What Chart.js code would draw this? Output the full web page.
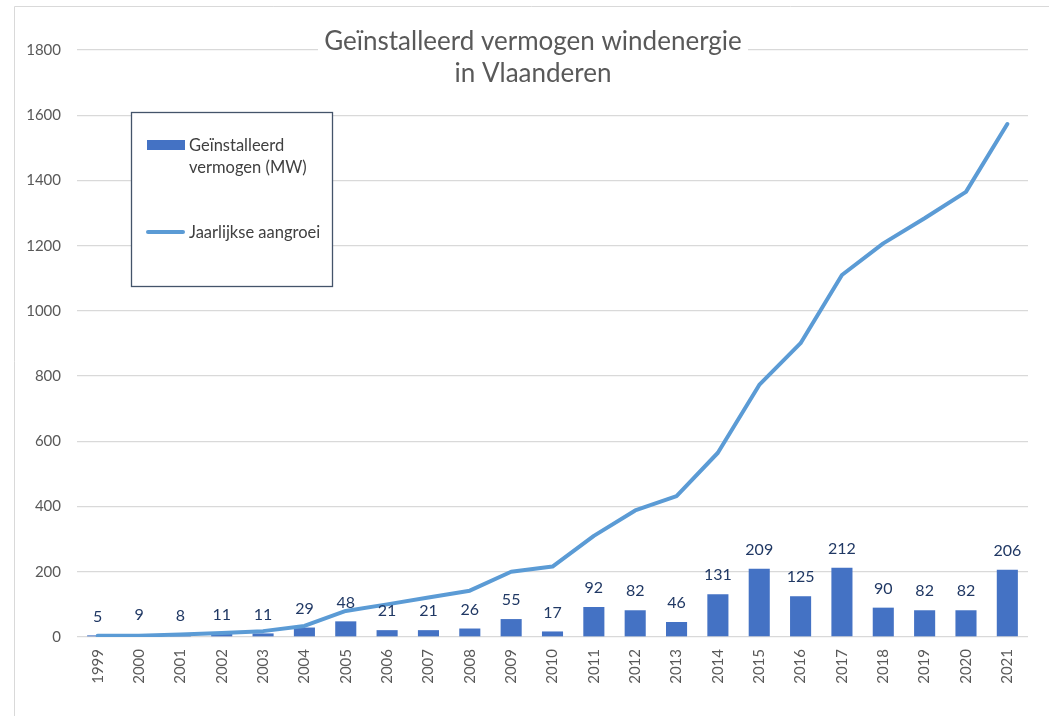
<!DOCTYPE html>
<html>
<head>
<meta charset="utf-8">
<script src="https://cdn.jsdelivr.net/npm/chart.js@4"></script>
<style>
  html, body { margin: 0; padding: 0; background: #fff; }
  #wrap { position: relative; width: 1049px; height: 716px; }
</style>
</head>
<body>
<div id="wrap"><canvas id="windChart" width="1049" height="716"></canvas></div>
<script>
const years = ['1999', '2000', '2001', '2002', '2003', '2004', '2005', '2006', '2007', '2008', '2009', '2010',
  '2011', '2012', '2013', '2014', '2015', '2016', '2017', '2018', '2019', '2020', '2021'];
const installed = [5, 9, 8, 11, 11, 29, 48, 21, 21, 26, 55, 17, 92, 82, 46, 131, 209, 125, 212, 90, 82, 82, 206];
const growth = [4, 4, 8, 12, 18, 34, 80, 100, 121, 142, 200, 216, 310, 388, 432, 565, 773, 901, 1110, 1207, 1284, 1365, 1573];
const barLabel = 'Geïnstalleerd vermogen (MW)';
const lineLabel = 'Jaarlijkse aangroei';
const titleLines = ['Geïnstalleerd vermogen windenergie', 'in Vlaanderen'];

const FONT = 'Lato, "Open Sans", sans-serif';

// frame, title and legend box (drawn by hand, they sit over the plot area)
const decorPlugin = {
  id: 'decor',
  beforeDraw(chart) {
    const ctx = chart.ctx;
    ctx.save();
    ctx.strokeStyle = '#d9d9d9';
    ctx.lineWidth = 1;
    ctx.beginPath();
    ctx.moveTo(14.5, 716);
    ctx.lineTo(14.5, 6.5);
    ctx.lineTo(1049, 6.5);
    ctx.stroke();
    ctx.restore();
  },
  afterDatasetsDraw(chart) {
    const ctx = chart.ctx;
    // value labels above bars
    const meta = chart.getDatasetMeta(0);
    ctx.save();
    ctx.font = '16px ' + FONT;
    ctx.fillStyle = '#203864';
    ctx.textAlign = 'center';
    ctx.textBaseline = 'middle';
    meta.data.forEach((bar, i) => {
      ctx.fillText(String(installed[i]), bar.x, bar.y - 19);
    });
    ctx.restore();
  },
  afterDraw(chart) {
    const ctx = chart.ctx;
    ctx.save();
    // title
    ctx.fillStyle = '#ffffff';
    ctx.fillRect(318, 30, 430, 60);
    ctx.font = '26px ' + FONT;
    ctx.fillStyle = '#595959';
    ctx.textAlign = 'center';
    ctx.textBaseline = 'middle';
    ctx.fillText(titleLines[0], 533, 42);
    ctx.fillText(titleLines[1], 533, 74);

    // legend box
    ctx.fillStyle = '#ffffff';
    ctx.fillRect(131, 112, 201, 174);
    ctx.strokeStyle = '#44546a';
    ctx.lineWidth = 1.3;
    ctx.strokeRect(131.5, 112.5, 201, 174);

    ctx.fillStyle = '#4472c4';
    ctx.fillRect(147, 140, 38, 10);
    ctx.strokeStyle = '#5b9bd5';
    ctx.lineWidth = 4;
    ctx.lineCap = 'round';
    ctx.beginPath();
    ctx.moveTo(148, 232);
    ctx.lineTo(183, 232);
    ctx.stroke();

    ctx.font = '16.5px ' + FONT;
    ctx.fillStyle = '#404040';
    ctx.textAlign = 'left';
    ctx.fillText('Geïnstalleerd', 189, 146);
    ctx.fillText('vermogen (MW)', 189, 168);
    ctx.fillText(lineLabel, 189, 233);
    ctx.restore();
  }
};

function draw() {
  const ctx = document.getElementById('windChart').getContext('2d');
  new Chart(ctx, {
    data: {
      labels: years,
      datasets: [
        {
          type: 'bar',
          label: barLabel,
          data: installed,
          backgroundColor: '#4472c4',
          borderWidth: 0,
          barPercentage: 0.51,
          categoryPercentage: 1,
          order: 1
        },
        {
          type: 'line',
          label: lineLabel,
          data: growth,
          borderColor: '#5b9bd5',
          borderWidth: 4,
          pointRadius: 0,
          tension: 0,
          borderCapStyle: 'round',
          borderJoinStyle: 'round',
          order: 0
        }
      ]
    },
    options: {
      responsive: false,
      animation: false,
      layout: { padding: { left: 0, top: 50, right: 21, bottom: 0 } },
      plugins: {
        legend: { display: false },
        tooltip: { enabled: false },
        title: { display: false }
      },
      scales: {
        x: {
          grid: { display: false, drawTicks: false },
          border: { display: false },
          ticks: {
            color: '#595959',
            font: { family: FONT, size: 15 },
            maxRotation: 90,
            minRotation: 90,
            padding: 12
          },
          afterFit(scale) { scale.height = 79; }
        },
        y: {
          min: 0,
          max: 1800,
          grid: { color: '#d9d9d9', lineWidth: 1.3, drawTicks: false },
          border: { display: false },
          ticks: {
            stepSize: 200,
            color: '#595959',
            font: { family: FONT, size: 15 },
            padding: 16,
            callback: (v) => String(v)
          },
          afterFit(scale) { scale.width = 77; }
        }
      }
    },
    plugins: [decorPlugin]
  });
}

if (document.fonts && document.fonts.load) {
  document.fonts.load('16px Lato').then(draw, draw);
} else {
  draw();
}
</script>
</body>
</html>
